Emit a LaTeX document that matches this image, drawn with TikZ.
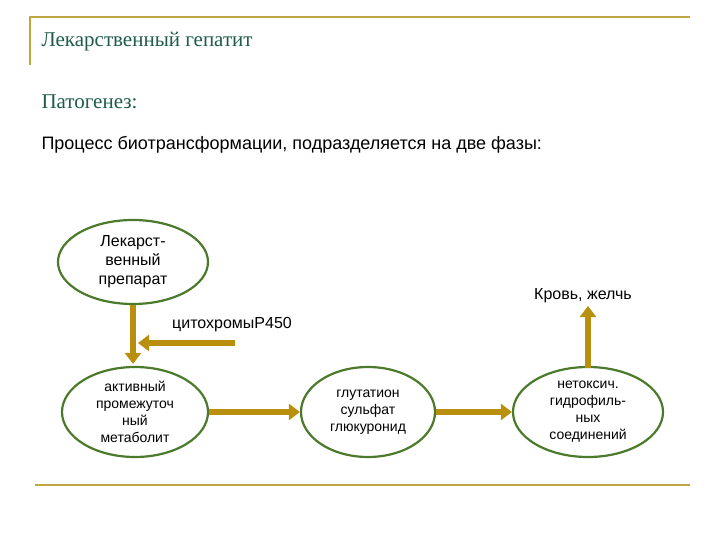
\documentclass[tikz,border=0pt]{standalone}
\usepackage{fontspec}
\setmainfont{Liberation Serif}
\setsansfont{Liberation Sans}
\usetikzlibrary{arrows.meta,shapes.geometric}
\definecolor{gold}{HTML}{B8900E}
\definecolor{frame}{HTML}{C0A640}
\definecolor{egreen}{HTML}{4C7A2C}
\definecolor{tgreen}{HTML}{1E5C4C}
\begin{document}
\begin{tikzpicture}[x=1pt,y=-1pt,
  ell/.style={draw=egreen,line width=2.2pt,ellipse,inner sep=0pt,font=\sffamily\fontsize{14}{17}\selectfont,align=center,text=black},
  garr/.style={draw=gold,line width=5.5pt,-{Triangle[length=11pt,width=16pt]}},
  ttl/.style={anchor=west,text=tgreen,font=\fontsize{21}{24}\selectfont}]
\useasboundingbox (0,0) rectangle (720,540);
\fill[white] (0,0) rectangle (720,540);
\draw[frame,line width=2pt] (30,65) -- (30,17) -- (690,17);
\draw[frame,line width=2pt] (35,485) -- (690,485);
\node[ttl] (t1) at (38,42) {Лекарственный гепатит};
\node[ttl] (t2) at (38,102) {Патогенез:};
\node[anchor=west,font=\sffamily\fontsize{18}{21}\selectfont] (t3) at (38,145) {Процесс биотрансформации, подразделяется на две фазы:};
\node[ell,minimum width=150pt,minimum height=84pt,font=\sffamily\fontsize{16}{19}\selectfont] (e1) at (133,262) {Лекарст-\\венный\\препарат};
\node[ell,minimum width=146pt,minimum height=90pt] (e2) at (135,412) {активный\\промежуточ\\ный\\метаболит};
\node[ell,minimum width=134pt,minimum height=90pt] (e3) at (368,412) {глутатион\\сульфат\\глюкуронид};
\node[ell,minimum width=150pt,minimum height=90pt] (e4) at (588,412) {нетоксич.\\гидрофиль-\\ных\\соединений};
\node[font=\sffamily\fontsize{16}{19}\selectfont] (c) at (232,325) {цитохромыP450};
\node[font=\sffamily\fontsize{16}{19}\selectfont] (k) at (583,296) {Кровь, желчь};
\coordinate (a1) at (235,343);
\coordinate (a2) at (138,343);
\coordinate (u) at (588,306);
\draw[garr] (e1.south) -- ([yshift=2pt]e1.south |- e2.north);
\draw[garr] (a1) -- (a2);
\draw[garr] (e2.east) -- (e3.west);
\draw[garr] (e3.east) -- (e4.west);
\draw[garr] ([yshift=-2pt]e4.north) -- (u);
\end{tikzpicture}
\end{document}
